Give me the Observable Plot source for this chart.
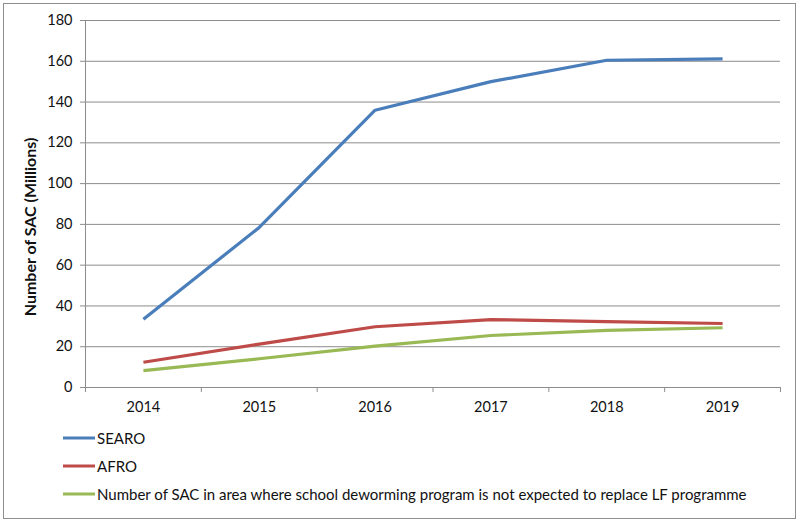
<!DOCTYPE html>
<html>
<head>
<meta charset="utf-8">
<script src="https://cdn.jsdelivr.net/npm/d3@7"></script>
<script src="https://cdn.jsdelivr.net/npm/@observablehq/plot@0.6"></script>
<style>
  body { margin: 0; background: #fff; font-family: Lato, "Liberation Sans", sans-serif; }
  #wrap { position: relative; width: 800px; height: 524px; }
  #frame { position: absolute; left: 3px; top: 3px; width: 793px; height: 516px; border: 1px solid #8e8e8e; box-sizing: border-box; }
  #chart { position: absolute; left: 0; top: 0; }
  #legend { position: absolute; left: 63px; top: 424px; font-size: 15px; color: #111; }
  .row { height: 28px; display: flex; align-items: center; }
  .row svg { margin-right: 2px; }
</style>
</head>
<body>
<div id="wrap">
  <div id="frame"></div>
  <div id="chart"></div>
  <div id="legend"></div>
</div>
<script>
const years = [2014, 2015, 2016, 2017, 2018, 2019];
const searo = [33.5, 78.5, 136, 150, 160.5, 161.2];
const afro = [12.4, 21.3, 29.8, 33.3, 32.3, 31.4];
const sacNotReplaced = [8.3, 14.1, 20.3, 25.5, 28.0, 29.3];
const seriesNames = ["SEARO", "AFRO", "Number of SAC in area where school deworming program is not expected to replace LF programme"];
const seriesColors = ["#4a7ebb", "#be4b48", "#98b954"];
const yTicks = [0, 20, 40, 60, 80, 100, 120, 140, 160, 180];
const yLabel = "Number of SAC (Millions)";

const seriesValues = [searo, afro, sacNotReplaced];
const rows = [];
seriesValues.forEach((vals, s) => vals.forEach((v, i) => rows.push({year: years[i], value: v, series: seriesNames[s]})));
const boundaries = [years[0] - 0.5, ...years.map(y => y + 0.5)];

const chart = Plot.plot({
  width: 800,
  height: 420,
  marginLeft: 85,
  marginRight: 20,
  marginTop: 20,
  marginBottom: 33,
  style: {fontFamily: "Lato, 'Liberation Sans', sans-serif", fontSize: "14px", color: "#111"},
  x: {domain: [boundaries[0], boundaries[boundaries.length - 1]]},
  y: {domain: [0, 180]},
  color: {domain: seriesNames, range: seriesColors},
  marks: [
    Plot.gridY(yTicks, {stroke: "#8c8c8c", strokeOpacity: 1, strokeWidth: 1}),
    Plot.ruleX([boundaries[0]], {stroke: "#8c8c8c", strokeWidth: 1}),
    Plot.ruleY([0], {stroke: "#8c8c8c", strokeWidth: 1}),
    Plot.axisY(yTicks, {tickSize: 5, tickPadding: 8, stroke: "#8c8c8c", label: null, fontSize: 14.5}),
    Plot.axisX(boundaries, {tickSize: 5, tickFormat: () => "", stroke: "#8c8c8c", label: null}),
    Plot.axisX(years, {tickSize: 0, tickPadding: 14, tickFormat: d => String(d), label: null, fontSize: 14.5}),
    Plot.text([yLabel], {frameAnchor: "left", textAnchor: "middle", rotate: -90, dx: -55, dy: 23, fontWeight: "bold", fontSize: 16, fill: "#111"}),
    Plot.line(rows, {x: "year", y: "value", z: "series", stroke: "series", strokeWidth: 3.2, strokeLinejoin: "round", strokeLinecap: "butt"})
  ]
});
document.getElementById("chart").appendChild(chart);

const legend = document.getElementById("legend");
seriesNames.forEach((name, i) => {
  const row = document.createElement("div");
  row.className = "row";
  row.innerHTML = `<svg width="32" height="6"><line x1="0" x2="32" y1="3" y2="3" stroke="${seriesColors[i]}" stroke-width="3"/></svg><span>${name}</span>`;
  legend.appendChild(row);
});
</script>
</body>
</html>
